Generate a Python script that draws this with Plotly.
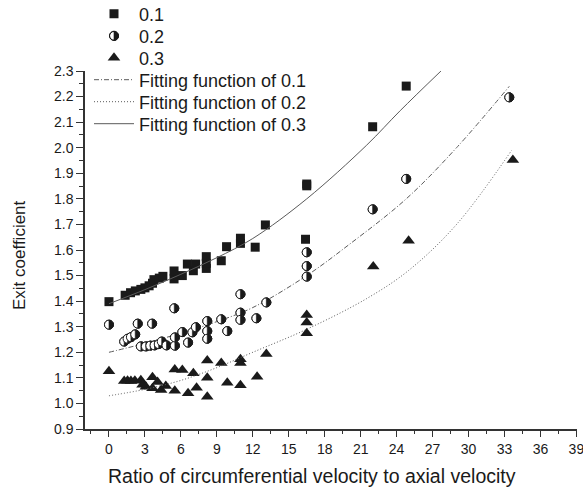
import plotly.graph_objects as go

# ---- data ----
sq_x = [0, 1.35, 1.8, 2.2, 2.66, 3.0, 3.35, 3.63, 3.75, 4.2, 4.5, 5.43, 5.43, 6.12, 6.54, 7.04, 7.23,
        8.12, 8.12, 8.12, 9.37, 9.81, 10.97, 10.97, 12.2, 13.05, 16.5, 16.5, 16.4, 22.0, 24.8]
sq_y = [1.398, 1.423, 1.433, 1.44, 1.446, 1.452, 1.46, 1.47, 1.484, 1.49, 1.497, 1.487, 1.518, 1.50, 1.545,
        1.519, 1.545, 1.528, 1.548, 1.574, 1.558, 1.613, 1.626, 1.646, 1.611, 1.698, 1.858, 1.851, 1.642,
        2.082, 2.241]

ci_x = [0, 1.27, 1.55, 1.83, 2.19, 2.4, 2.66, 3.08, 3.45, 3.6, 3.8, 4.15, 4.4, 4.8, 5.45, 5.5, 5.5,
        6.12, 6.6, 6.96, 7.25, 8.2, 8.2, 8.2, 9.37, 9.87, 10.97, 10.97, 10.97, 12.3, 13.13,
        16.5, 16.5, 16.5, 22.0, 24.8, 33.4]
ci_y = [1.308, 1.242, 1.253, 1.259, 1.27, 1.312, 1.223, 1.223, 1.226, 1.312, 1.227, 1.232, 1.242, 1.227,
        1.372, 1.226, 1.258, 1.279, 1.238, 1.278, 1.298, 1.322, 1.283, 1.253, 1.329, 1.283, 1.427, 1.355,
        1.327, 1.333, 1.395, 1.591, 1.537, 1.496, 1.759, 1.878, 2.197]

tr_x = [0, 1.27, 1.55, 1.83, 2.16, 2.66, 2.8, 3.08, 3.63, 3.63, 4.05, 4.35, 4.74, 5.49, 5.49, 6.12, 6.6,
        7.04, 7.31, 8.2, 8.2, 8.2, 9.37, 9.87, 10.97, 10.97, 10.97, 12.36, 13.13, 16.5, 16.5, 16.5,
        22.05, 25.0, 33.7]
tr_y = [1.126, 1.088, 1.089, 1.088, 1.089, 1.091, 1.073, 1.065, 1.102, 1.059, 1.084, 1.053, 1.068, 1.133,
        1.05, 1.131, 1.04, 1.118, 1.061, 1.168, 1.100, 1.026, 1.158, 1.081, 1.173, 1.158, 1.071, 1.104,
        1.193, 1.346, 1.316, 1.274, 1.535, 1.636, 1.952]

# fitted curves
fit_a_x = [0, 3, 6, 9, 12, 16.5, 20, 24.8, 29, 33.4]          # dash-dot
fit_a_y = [1.20, 1.235, 1.275, 1.32, 1.375, 1.50, 1.62, 1.80, 2.00, 2.24]
fit_b_x = [0, 3, 6, 9, 12, 16.5, 21.5, 25, 29, 33.6]           # dotted
fit_b_y = [1.03, 1.055, 1.09, 1.14, 1.20, 1.29, 1.41, 1.52, 1.70, 1.99]
fit_c_x = [0, 3, 6, 9, 12, 16.5, 21.5, 24.3, 27.7]             # solid
fit_c_y = [1.39, 1.445, 1.505, 1.57, 1.645, 1.80, 2.01, 2.145, 2.30]

legend_names = ["0.1", "0.2", "0.3",
                "Fitting function of 0.1", "Fitting function of 0.2", "Fitting function of 0.3"]
x_title = "Ratio of circumferential velocity to axial velocity"
y_title = "Exit coefficient"

x_ticks = list(range(0, 40, 3))
y_ticks = [round(0.9 + 0.1 * i, 1) for i in range(15)]

FONT = "Liberation Sans, Arial, sans-serif"
INK = "#1a1a1a"
LINEC = "#5a5a5a"
LEG = ["legend2", "legend3", "legend4", "legend5", "legend6", "legend7"]

fig = go.Figure()
fig.add_trace(go.Scatter(x=sq_x, y=sq_y, mode="markers", name=legend_names[0], legend=LEG[0],
                         marker=dict(symbol="square", size=9, color=INK, line=dict(width=0))))
fig.add_trace(go.Scatter(x=ci_x, y=ci_y, mode="markers", name=legend_names[1], legend=LEG[1],
                         marker=dict(symbol="circle", size=9, color="rgba(0,0,0,0)",
                                     line=dict(width=1, color=INK))))
fig.add_trace(go.Scatter(x=tr_x, y=tr_y, mode="markers", name=legend_names[2], legend=LEG[2],
                         marker=dict(symbol="triangle-up", size=11, color=INK, line=dict(width=0))))
fig.add_trace(go.Scatter(x=fit_a_x, y=fit_a_y, mode="lines", name=legend_names[3], legend=LEG[3],
                         line=dict(color=LINEC, width=1, dash="5px,2px,1px,2px", shape="spline")))
fig.add_trace(go.Scatter(x=fit_b_x, y=fit_b_y, mode="lines", name=legend_names[4], legend=LEG[4],
                         line=dict(color=LINEC, width=1, dash="1px,2px", shape="spline")))
fig.add_trace(go.Scatter(x=fit_c_x, y=fit_c_y, mode="lines", name=legend_names[5], legend=LEG[5],
                         line=dict(color=LINEC, width=1, shape="spline")))

# half-filled circle symbol built as pixel-sized shapes anchored at each data point
R = 4.5
K = 0.5523 * R
full_circle = (f"M {-R} 0 C {-R} {K} {-K} {R} 0 {R} C {K} {R} {R} {K} {R} 0 "
               f"C {R} {-K} {K} {-R} 0 {-R} C {-K} {-R} {-R} {-K} {-R} 0 Z")
right_half = f"M 0 {R} C {K} {R} {R} {K} {R} 0 C {R} {-K} {K} {-R} 0 {-R} Z"

shapes = []
for xv, yv in zip(ci_x, ci_y):
    base = dict(type="path", xref="x", yref="y", xsizemode="pixel", ysizemode="pixel",
                xanchor=xv, yanchor=yv, layer="above")
    shapes.append(dict(base, path=full_circle, fillcolor="white", line=dict(color=INK, width=1)))
    shapes.append(dict(base, path=right_half, fillcolor=INK, line=dict(color=INK, width=0.6)))

# legend layout: one legend box per row so the rows sit as in the reference
PLOT_L, PLOT_W, PLOT_B, PLOT_H = 85, 492, 429, 358
row_centers = [14, 36, 58, 80, 102, 124]
ROW_OFF = 18.5
leg_x = (89 - PLOT_L) / PLOT_W
legends = {}
for key, c in zip(LEG, row_centers):
    legends[key] = dict(x=leg_x, y=(PLOT_B - (c - ROW_OFF)) / PLOT_H, xanchor="left", yanchor="top",
                        bgcolor="rgba(0,0,0,0)", itemwidth=40,
                        font=dict(family=FONT, size=18, color=INK))

# half fill for the legend's circle symbol (drawn under the legend's open circle)
sym_x = (114 - PLOT_L) / PLOT_W
sym_y = (PLOT_B - row_centers[1]) / PLOT_H
for path, fill, lw in [(full_circle, "white", 1), (right_half, INK, 0.6)]:
    shapes.append(dict(type="path", xref="paper", yref="paper", xsizemode="pixel", ysizemode="pixel",
                       xanchor=sym_x, yanchor=sym_y, path=path, fillcolor=fill,
                       line=dict(color=INK, width=lw)))

annotations = [
    dict(text=x_title, xref="paper", yref="paper", x=(312 - PLOT_L) / PLOT_W, y=(PLOT_B - 476) / PLOT_H,
         xanchor="center", yanchor="middle", showarrow=False, font=dict(family=FONT, size=19.5, color=INK)),
    dict(text=y_title, xref="paper", yref="paper", x=(19 - PLOT_L) / PLOT_W, y=(PLOT_B - 255) / PLOT_H,
         xanchor="center", yanchor="middle", textangle=-90, showarrow=False,
         font=dict(family=FONT, size=17, color=INK)),
]

fig.update_layout(
    width=583, height=487,
    margin=dict(l=85, r=6, t=71, b=58, autoexpand=False),
    paper_bgcolor="white", plot_bgcolor="white",
    font=dict(family=FONT, size=14, color=INK),
    shapes=shapes,
    annotations=annotations,
    xaxis=dict(range=[-2, 39.05], tickvals=x_ticks, showgrid=False, zeroline=False,
               showline=True, linecolor="#333333", linewidth=1.5,
               ticks="outside", ticklen=6, tickcolor="#333333", tickwidth=1.2,
               minor=dict(dtick=1.5, tick0=0, ticks="outside", ticklen=3, tickcolor="#333333"),
               tickfont=dict(size=14), ticklabeloverflow="allow"),
    yaxis=dict(range=[0.9, 2.3], tickvals=y_ticks, tickformat=".1f", showgrid=False, zeroline=False,
               showline=True, linecolor="#333333", linewidth=1.5,
               ticks="outside", ticklen=7, tickcolor="#333333", tickwidth=1.2,
               minor=dict(dtick=0.05, tick0=0.9, ticks="outside", ticklen=4, tickcolor="#333333"),
               tickfont=dict(size=14), ticklabeloverflow="allow"),
    **legends,
)

fig.write_html("out.html")
